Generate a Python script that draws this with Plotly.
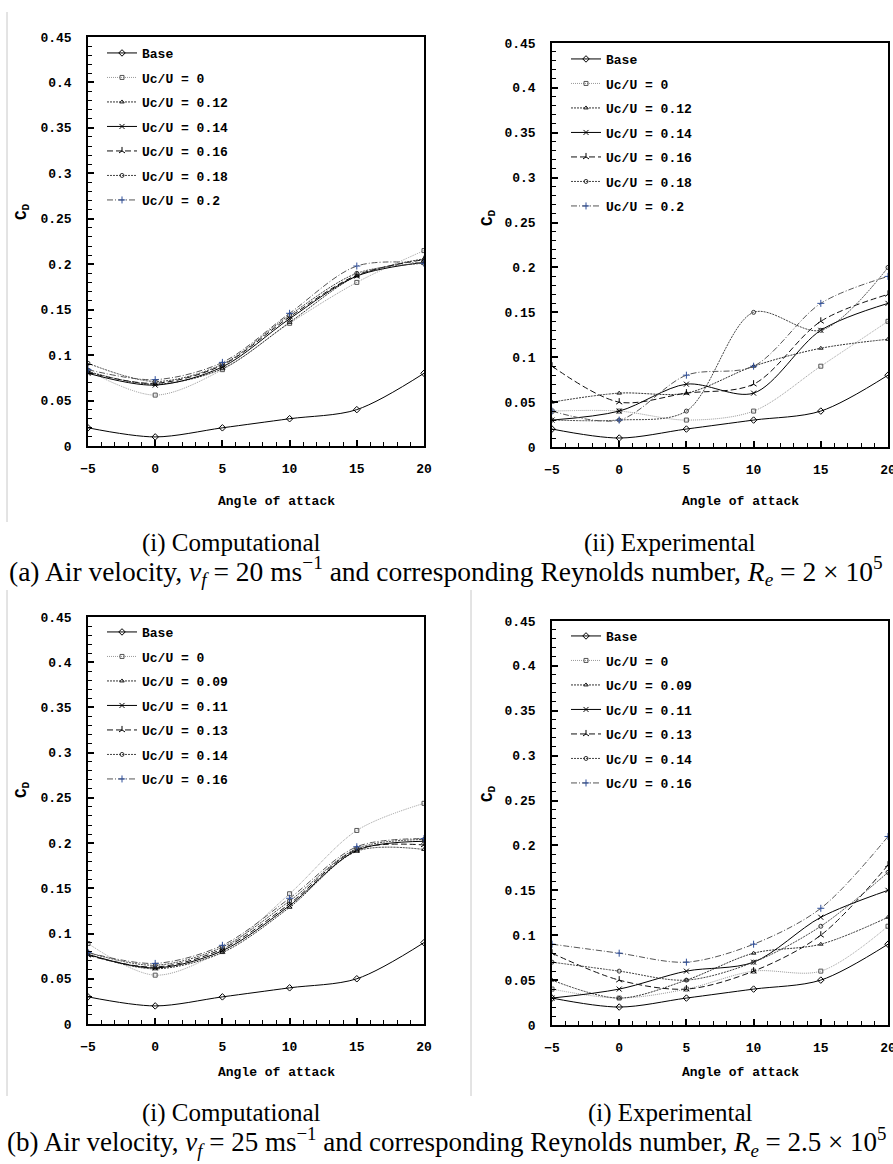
import plotly.graph_objects as go

# ---------------- data ----------------
angles = [-5, 0, 5, 10, 15, 20]

labels_a = ["Base", "Uc/U = 0", "Uc/U = 0.12", "Uc/U = 0.14", "Uc/U = 0.16", "Uc/U = 0.18", "Uc/U = 0.2"]
labels_b = ["Base", "Uc/U = 0", "Uc/U = 0.09", "Uc/U = 0.11", "Uc/U = 0.13", "Uc/U = 0.14", "Uc/U = 0.16"]

# (a)(i) Computational, 20 m/s
comp20_base = [0.02, 0.01, 0.02, 0.03, 0.04, 0.08]
comp20_u000 = [0.083, 0.056, 0.084, 0.135, 0.180, 0.215]
comp20_u012 = [0.082, 0.068, 0.085, 0.136, 0.187, 0.206]
comp20_u014 = [0.080, 0.067, 0.087, 0.140, 0.187, 0.202]
comp20_u016 = [0.081, 0.069, 0.089, 0.142, 0.188, 0.205]
comp20_u018 = [0.091, 0.071, 0.090, 0.144, 0.190, 0.201]
comp20_u020 = [0.084, 0.073, 0.092, 0.146, 0.198, 0.201]

# (a)(ii) Experimental, 20 m/s
exp20_base = [0.02, 0.01, 0.02, 0.03, 0.04, 0.08]
exp20_u000 = [0.04, 0.04, 0.03, 0.04, 0.09, 0.14]
exp20_u012 = [0.05, 0.06, 0.06, 0.09, 0.11, 0.12]
exp20_u014 = [0.03, 0.04, 0.07, 0.06, 0.13, 0.16]
exp20_u016 = [0.09, 0.05, 0.06, 0.07, 0.14, 0.17]
exp20_u018 = [0.03, 0.03, 0.04, 0.15, 0.13, 0.20]
exp20_u020 = [0.04, 0.03, 0.08, 0.09, 0.16, 0.19]

# (b)(i) Computational, 25 m/s
comp25_base = [0.03, 0.02, 0.03, 0.04, 0.05, 0.09]
comp25_u000 = [0.089, 0.054, 0.082, 0.144, 0.214, 0.244]
comp25_u009 = [0.077, 0.061, 0.079, 0.129, 0.191, 0.193]
comp25_u011 = [0.077, 0.062, 0.081, 0.131, 0.192, 0.202]
comp25_u013 = [0.076, 0.063, 0.083, 0.133, 0.193, 0.198]
comp25_u014 = [0.079, 0.065, 0.085, 0.136, 0.194, 0.204]
comp25_u016 = [0.079, 0.067, 0.087, 0.139, 0.196, 0.205]

# (b)(i) Experimental, 25 m/s
exp25_base = [0.03, 0.02, 0.03, 0.04, 0.05, 0.09]
exp25_u000 = [0.04, 0.03, 0.04, 0.06, 0.06, 0.11]
exp25_u009 = [0.05, 0.03, 0.05, 0.08, 0.09, 0.12]
exp25_u011 = [0.03, 0.04, 0.06, 0.07, 0.12, 0.15]
exp25_u013 = [0.08, 0.05, 0.04, 0.06, 0.10, 0.178]
exp25_u014 = [0.07, 0.06, 0.05, 0.07, 0.11, 0.17]
exp25_u016 = [0.09, 0.08, 0.07, 0.09, 0.13, 0.21]

y_ticks = [0, 0.05, 0.1, 0.15, 0.2, 0.25, 0.3, 0.35, 0.4, 0.45]
x_ticks = [-5, 0, 5, 10, 15, 20]

panels_data = [
    (labels_a, [comp20_base, comp20_u000, comp20_u012, comp20_u014, comp20_u016, comp20_u018, comp20_u020]),
    (labels_a, [exp20_base, exp20_u000, exp20_u012, exp20_u014, exp20_u016, exp20_u018, exp20_u020]),
    (labels_b, [comp25_base, comp25_u000, comp25_u009, comp25_u011, comp25_u013, comp25_u014, comp25_u016]),
    (labels_b, [exp25_base, exp25_u000, exp25_u009, exp25_u011, exp25_u013, exp25_u014, exp25_u016]),
]

# ---------------- styles ----------------
W, H = 893, 1164
MONO = "Liberation Mono"
SERIF = "Liberation Serif"

styles = [
    dict(lc="#000000", dash="solid", sym="diamond-open", mc="#000000", ms=5),
    dict(lc="#9a9a9a", dash="1px,1px", sym="square-open", mc="#555555", ms=4),
    dict(lc="#333333", dash="2px,1px", sym="triangle-up-open", mc="#222222", ms=4),
    dict(lc="#000000", dash="solid", sym="x-thin-open", mc="#000000", ms=5),
    dict(lc="#111111", dash="6px,3px", sym="y-up-open", mc="#000000", ms=5),
    dict(lc="#444444", dash="2px,1px", sym="circle-open", mc="#333333", ms=4),
    dict(lc="#555555", dash="6px,2px,1px,2px", sym="cross-thin-open", mc="#2f4f9a", ms=5),
]

# panel boxes in pixels: x0, x1, ytop, ybottom
boxes = [
    (88, 424, 37, 446),
    (552, 888, 43, 447),
    (88, 424, 617, 1024),
    (552, 888, 621, 1025),
]
legend_pos = [(102, 38), (566, 44), (102, 617), (566, 621)]
cd_pos = [(22, 212), (488, 217), (22, 790), (488, 793)]
xlabel_pos = [(276, 501), (740, 501), (276, 1072), (740, 1072)]


def fx(x):
    return x / W


def fy(y):
    return 1 - y / H


fig = go.Figure()
layout_updates = {}
annotations = []

for p, (labels, series) in enumerate(panels_data):
    ax = "" if p == 0 else str(p + 1)
    leg = "legend" if p == 0 else f"legend{p + 1}"
    for i, (lab, vals) in enumerate(zip(labels, series)):
        st = styles[i]
        fig.add_trace(go.Scatter(
            x=angles, y=vals, name=lab, mode="lines+markers",
            xaxis="x" + ax, yaxis="y" + ax, legend=leg,
            legendgroup=f"p{p}_{i}",
            line=dict(color=st["lc"], width=1, dash=st["dash"], shape="spline", smoothing=0.9),
            marker=dict(symbol=st["sym"], size=st["ms"], color=st["mc"], line=dict(width=1, color=st["mc"])),
            showlegend=True,
        ))
    x0, x1, yt, yb = boxes[p]
    layout_updates["xaxis" + ax] = dict(
        domain=[fx(x0), fx(x1)], range=[-5, 20], anchor="y" + ax, automargin=False,
        tickvals=x_ticks, ticks="inside", ticklen=6, tickwidth=1.5, tickcolor="black",
        minor=dict(ticks="inside", dtick=1, tick0=0, ticklen=4, tickwidth=1.2, tickcolor="black"),
        showline=True, linecolor="black", linewidth=1.5, mirror=True,
        showgrid=False, zeroline=False, ticklabelstandoff=10, ticklabeloverflow="allow",
        tickfont=dict(family=MONO, size=13, color="black", weight="bold"),
    )
    layout_updates["yaxis" + ax] = dict(
        domain=[fy(yb), fy(yt)], range=[0, 0.45], anchor="x" + ax, automargin=False,
        tickvals=y_ticks, ticks="inside", ticklen=6, tickwidth=1.5, tickcolor="black",
        minor=dict(ticks="inside", dtick=0.01, tick0=0, ticklen=4, tickwidth=1.2, tickcolor="black"),
        showline=True, linecolor="black", linewidth=1.5, mirror=True,
        showgrid=False, zeroline=False, ticklabelstandoff=12, ticklabeloverflow="allow",
        tickfont=dict(family=MONO, size=13, color="black", weight="bold"),
    )
    lx, ly = legend_pos[p]
    layout_updates[leg] = dict(
        x=fx(lx), y=fy(ly), xanchor="left", yanchor="top", xref="paper", yref="paper",
        bgcolor="rgba(0,0,0,0)", borderwidth=0, tracegroupgap=4.6,
        font=dict(family=MONO, size=13, color="black", weight="bold"),
        itemclick=False, itemdoubleclick=False,
    )
    cx, cy = cd_pos[p]
    annotations.append(dict(
        x=fx(cx), y=fy(cy), xref="paper", yref="paper", text="C<sub>D</sub>",
        xanchor="center", yanchor="middle",
        showarrow=False, textangle=-90,
        font=dict(family=MONO, size=16, color="black", weight="bold"),
    ))
    ax_x, ax_y = xlabel_pos[p]
    annotations.append(dict(
        x=fx(ax_x), y=fy(ax_y), xref="paper", yref="paper", text="Angle of attack",
        xanchor="center", yanchor="middle",
        showarrow=False, font=dict(family=MONO, size=13, color="black", weight="bold"),
    ))

captions = [
    (231, 543, "(i) Computational", 25),
    (670, 543, "(ii) Experimental", 25),
    (446, 571, "(a) Air velocity, <i>v<sub>f</sub></i> = 20 ms<sup>\u22121</sup> and corresponding Reynolds number, <i>R<sub>e</sub></i> = 2 \u00d7 10<sup>5</sup>", 27.5),
    (231, 1113, "(i) Computational", 25),
    (670, 1113, "(i) Experimental", 25),
    (446, 1142, "(b) Air velocity, <i>v<sub>f</sub></i> = 25 ms<sup>\u22121</sup> and corresponding Reynolds number, <i>R<sub>e</sub></i> = 2.5 \u00d7 10<sup>5</sup>", 27),
]
for cx, cy, txt, fs in captions:
    annotations.append(dict(
        x=fx(cx), y=fy(cy), xref="paper", yref="paper", text=txt, showarrow=False,
        xanchor="center", yanchor="middle",
        font=dict(family=SERIF, size=fs, color="black"),
    ))

# thin grey sub-figure frame lines
shapes = [
    dict(type="line", xref="paper", yref="paper", x0=fx(7), x1=fx(7), y0=fy(12), y1=fy(522),
         line=dict(color="#c8c8c8", width=1)),
    dict(type="line", xref="paper", yref="paper", x0=fx(7), x1=fx(7), y0=fy(590), y1=fy(1096),
         line=dict(color="#c8c8c8", width=1)),
    dict(type="line", xref="paper", yref="paper", x0=fx(471), x1=fx(471), y0=fy(590), y1=fy(1096),
         line=dict(color="#c8c8c8", width=1)),
]

fig.update_layout(
    width=W, height=H, margin=dict(l=0, r=0, t=0, b=0, autoexpand=False),
    paper_bgcolor="white", plot_bgcolor="white",
    annotations=annotations, shapes=shapes,
    **layout_updates,
)

fig.write_html(
    "out.html",
    config={"displayModeBar": False},
    post_script="document.body.style.margin='0';document.body.style.overflow='hidden';",
)
